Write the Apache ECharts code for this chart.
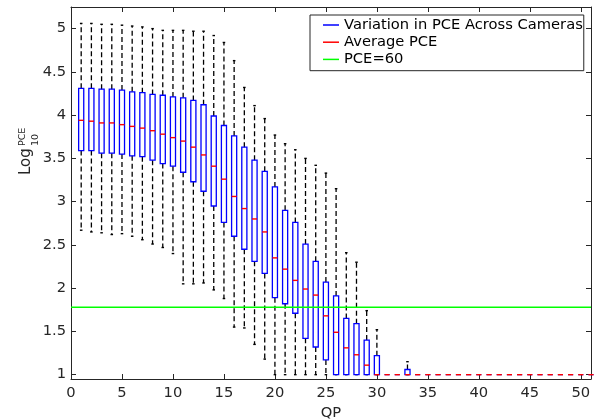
<!DOCTYPE html>
<html><head><meta charset="utf-8">
<script src="https://cdn.jsdelivr.net/npm/echarts@6/dist/echarts.min.js"></script>
<style>html,body{margin:0;padding:0;background:#fff}#c{width:607px;height:420px}</style>
</head><body><div id="c"></div>
<script>
// ---- data ----
const qp = [1,2,3,4,5,6,7,8,9,10,11,12,13,14,15,16,17,18,19,20,21,22,23,24,25,26,27,28,29,30,31,32,33,34,35,36,37,38,39,40,41,42,43,44,45,46,47,48,49,50,51];
const whiskerHigh = [5.06,5.06,5.05,5.05,5.04,5.03,5.02,5.00,4.98,4.98,4.98,4.97,4.97,4.92,4.84,4.63,4.32,4.11,3.96,3.77,3.67,3.60,3.50,3.42,3.33,3.15,2.41,2.30,1.74,1.52,1,1,1.15,1,1,1,1,1,1,1,1,1,1,1,1,1,1,1,1,1,1];
const q3 = [4.31,4.31,4.30,4.30,4.29,4.27,4.26,4.24,4.23,4.21,4.20,4.17,4.12,3.99,3.88,3.76,3.63,3.48,3.35,3.17,2.90,2.76,2.51,2.31,2.07,1.91,1.65,1.59,1.40,1.22,1,1,1.06,1,1,1,1,1,1,1,1,1,1,1,1,1,1,1,1,1,1];
const median = [3.94,3.93,3.91,3.91,3.89,3.87,3.85,3.82,3.78,3.74,3.70,3.63,3.54,3.41,3.26,3.06,2.92,2.80,2.65,2.35,2.22,2.09,1.99,1.92,1.68,1.49,1.31,1.23,1.11,1.00,1,1,1.00,1,1,1,1,1,1,1,1,1,1,1,1,1,1,1,1,1,1];
const q1 = [3.59,3.59,3.56,3.56,3.55,3.53,3.52,3.48,3.44,3.41,3.34,3.23,3.12,2.95,2.76,2.60,2.45,2.31,2.17,1.89,1.82,1.71,1.42,1.32,1.17,1.00,1.00,1.00,1.00,1.00,1,1,1.00,1,1,1,1,1,1,1,1,1,1,1,1,1,1,1,1,1,1];
const whiskerLow = [2.67,2.65,2.64,2.62,2.63,2.60,2.56,2.51,2.47,2.40,2.05,2.05,2.06,1.98,1.88,1.55,1.54,1.35,1.18,1.00,1.00,1.00,1.00,1.00,1.00,1.00,1.00,1.00,1.00,1.00,1,1,1.00,1,1,1,1,1,1,1,1,1,1,1,1,1,1,1,1,1,1];
const pceThreshold = 60;
const xTicks = [0,5,10,15,20,25,30,35,40,45,50,51];
const yTicks = [1,1.5,2,2.5,3,3.5,4,4.5,5];
const seriesNames = ['Variation in PCE Across Cameras','Average PCE','PCE=60'];
const xTitle = 'QP';

// ---- build ----
const FONT = 'DejaVu Sans';
const AX = '#262626';
const BOX_W = 0.5, CAP_W = 0.25;
const boxData = qp.map((x,i)=>[x, whiskerLow[i], q1[i], median[i], q3[i], whiskerHigh[i]]);
const medData = qp.map((x,i)=>[x, median[i]]);
const thr = Math.log10(pceThreshold);

function boxRender(params, api){
  const x = api.value(0), wl = api.value(1), b1 = api.value(2), b3 = api.value(4), wh = api.value(5);
  const half = api.size([BOX_W,0])[0]/2;
  const capHalf = api.size([CAP_W,0])[0]/2;
  const cx = api.coord([x,wl])[0];
  const yWL = api.coord([x,wl])[1], yQ1 = api.coord([x,b1])[1], yQ3 = api.coord([x,b3])[1], yWH = api.coord([x,wh])[1];
  const ch = [];
  const dash = {stroke:'#000', lineWidth:1.3, lineDash:[5,3], fill:null};
  const cap = {stroke:'#000', lineWidth:1.4, fill:null};
  if (wh > b3) {
    ch.push({type:'line', shape:{x1:cx,y1:yQ3,x2:cx,y2:yWH}, style:dash});
    ch.push({type:'line', shape:{x1:cx-capHalf,y1:yWH,x2:cx+capHalf,y2:yWH}, style:cap});
  }
  if (b1 > wl) {
    ch.push({type:'line', shape:{x1:cx,y1:yQ1,x2:cx,y2:yWL}, style:dash});
    ch.push({type:'line', shape:{x1:cx-capHalf,y1:yWL,x2:cx+capHalf,y2:yWL}, style:cap});
  } else if (wh > b3 || b3 > b1) {
    ch.push({type:'line', shape:{x1:cx-capHalf,y1:yWL,x2:cx+capHalf,y2:yWL}, style:cap});
  }
  ch.push({type:'rect', shape:{x:cx-half, y:yQ3, width:2*half, height:yQ1-yQ3}, style:{stroke:'#0000ff', lineWidth:1.3, fill:null}});
  return {type:'group', children:ch};
}
function medRender(params, api){
  const x = api.value(0), m = api.value(1);
  const half = api.size([BOX_W,0])[0]/2;
  const p = api.coord([x,m]);
  return {type:'line', shape:{x1:p[0]-half,y1:p[1],x2:p[0]+half,y2:p[1]}, style:{stroke:'#ff0000', lineWidth:1.4}};
}

const labelStyle = {fontFamily:FONT, fontSize:14.7, color:AX};
const chart = echarts.init(document.getElementById('c'), null, {renderer:'canvas'});
chart.setOption({
  animation:false,
  backgroundColor:'#fff',
  textStyle:{fontFamily:FONT},
  grid:{left:71, right:16, top:7, bottom:41, containLabel:false, outerBoundsMode:'none'},
  xAxis:[
    {type:'value', min:0, max:51, position:'bottom',
      axisLine:{show:true, onZero:false, lineStyle:{color:AX, width:1}},
      axisTick:{show:true, inside:true, length:5, customValues:xTicks, lineStyle:{color:AX}},
      axisLabel:Object.assign({customValues:xTicks, margin:7}, labelStyle),
      splitLine:{show:false},
      name:xTitle, nameLocation:'middle', nameGap:24, nameTextStyle:labelStyle},
    {type:'value', min:0, max:51, position:'top',
      axisLine:{show:true, onZero:false, lineStyle:{color:AX, width:1}},
      axisTick:{show:true, inside:true, length:5, customValues:xTicks, lineStyle:{color:AX}},
      axisLabel:{show:false}, splitLine:{show:false}}
  ],
  yAxis:[
    {type:'value', min:0.95, max:5.25, position:'left',
      axisLine:{show:true, onZero:false, lineStyle:{color:AX, width:1}},
      axisTick:{show:true, inside:true, length:5, customValues:yTicks, lineStyle:{color:AX}},
      axisLabel:Object.assign({customValues:yTicks, margin:5}, labelStyle),
      splitLine:{show:false}},
    {type:'value', min:0.95, max:5.25, position:'right',
      axisLine:{show:true, onZero:false, lineStyle:{color:AX, width:1}},
      axisTick:{show:true, inside:true, length:5, customValues:yTicks, lineStyle:{color:AX}},
      axisLabel:{show:false}, splitLine:{show:false}}
  ],
  legend:{
    orient:'vertical', left:310, top:15, selectedMode:false,
    padding:[1.4,1,2.7,13], itemGap:0, itemWidth:16, itemHeight:1.5, icon:'rect',
    borderColor:AX, borderWidth:1, backgroundColor:'#fff',
    textStyle:{fontFamily:FONT, fontSize:14.7, color:'#000', lineHeight:17.2, padding:0},
    data:[
      {name:seriesNames[0], itemStyle:{color:'#0000ff'}},
      {name:seriesNames[1], itemStyle:{color:'#ff0000'}},
      {name:seriesNames[2], itemStyle:{color:'#00ff00'}}
    ]
  },
  series:[
    {name:seriesNames[0], type:'custom', renderItem:boxRender, data:boxData, itemStyle:{color:'#0000ff'},
      encode:{x:0, y:[1,2,3,4,5]}, clip:false, z:2},
    {name:seriesNames[1], type:'custom', renderItem:medRender, data:medData, itemStyle:{color:'#ff0000'},
      encode:{x:0, y:1}, clip:false, z:3},
    {name:seriesNames[2], type:'line', data:[[0,thr],[51,thr]], symbol:'none', color:'#00ff00',
      lineStyle:{color:'#00ff00', width:1.5}, z:4}
  ],
  graphic:[{
    type:'group', x:26, y:175, rotation:Math.PI/2, silent:true,
    children:[
      {type:'text', x:0, y:0, style:{text:'Log', fontFamily:FONT, fontSize:15, fill:AX, align:'left', verticalAlign:'middle', textAlign:'left', textVerticalAlign:'middle'}},
      {type:'text', x:29, y:-3.5, style:{text:'PCE', fontFamily:FONT, fontSize:9.5, fill:AX, align:'left', verticalAlign:'middle', textAlign:'left', textVerticalAlign:'middle'}},
      {type:'text', x:29, y:9.5, style:{text:'10', fontFamily:FONT, fontSize:9.5, fill:AX, align:'left', verticalAlign:'middle', textAlign:'left', textVerticalAlign:'middle'}}
    ]
  }]
});
</script></body></html>
